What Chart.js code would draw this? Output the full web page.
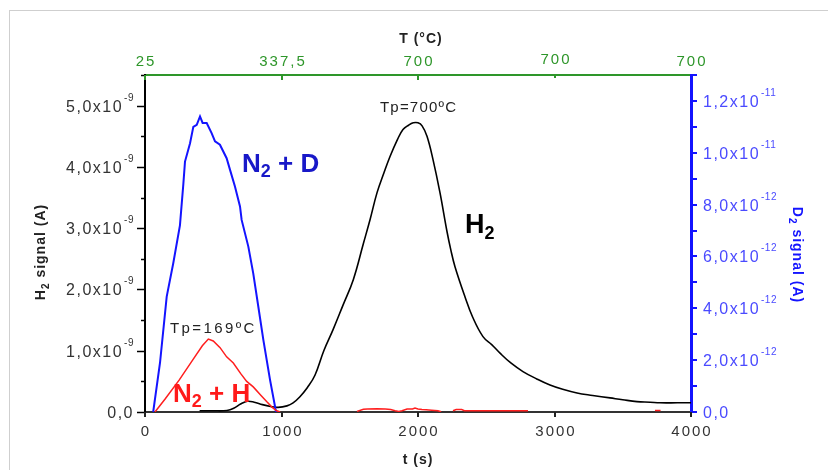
<!DOCTYPE html>
<html>
<head>
<meta charset="utf-8">
<script src="https://cdn.jsdelivr.net/npm/chart.js@4.4.0/dist/chart.umd.min.js"></script>
<style>
  html, body { margin: 0; padding: 0; background: #fff; }
  #wrap { position: relative; width: 828px; height: 470px; overflow: hidden; }
  #frame { position: absolute; left: 9px; top: 10px; width: 900px; height: 500px;
           border-left: 1px solid #cfcfcf; border-top: 1px solid #cfcfcf; }
  canvas { position: absolute; left: 0; top: 0; }
</style>
</head>
<body>
<div id="wrap"><div id="frame"></div><canvas id="tds" width="828" height="470"></canvas></div>
<script>
// H2 signal, black curve (left axis, units of 1e-9 A)
const h2Time = [400,500,600,650,700,750,800,860,920,975,1040,1085,1135,1190,1245,1310,1377,1450,1526,1600,
  1650,1700,1750,1795,1850,1890,1930,1965,2000,2030,2066,2110,2161,2212,2240,2271,2344,2400,2476,2540,
  2601,2680,2769,2870,2967,3060,3165,3280,3407,3500,3604,3700,3773,3900,4000];
const h2Signal = [0.02,0.02,0.025,0.06,0.13,0.175,0.16,0.12,0.09,0.075,0.1,0.15,0.25,0.4,0.6,1.0,1.34,1.74,2.16,2.75,
  3.15,3.58,3.9,4.17,4.45,4.61,4.68,4.72,4.72,4.67,4.5,4.12,3.58,2.95,2.65,2.37,1.88,1.55,1.23,1.1,
  0.96,0.8,0.66,0.54,0.44,0.37,0.31,0.27,0.23,0.2,0.17,0.16,0.15,0.15,0.15];

// N2 + H, red curve (left axis, units of 1e-9 A)
const nhTime = [73,150,250,350,420,464,500,550,598,647,700,745,793,850,891,930,965,990,1200,
  1553,1600,1630,1700,1760,1800,1832,1860,1883,1920,1960,1978,2000,2029,2060,2100,2146,2170,2200,
  2256,2280,2320,2340,2600,2806,3000,3736,3777];
const nhSignal = [0,0.22,0.52,0.85,1.08,1.19,1.16,1.05,0.9,0.8,0.63,0.5,0.41,0.27,0.17,0.08,0.02,0,null,
  0.01,0.045,0.05,0.055,0.05,0.04,0.02,0.01,0.02,0.05,0.05,0.065,0.05,0.04,0.035,0.03,0.02,0.005,null,
  0.02,0.04,0.04,0.02,0.02,0.02,null,0.025,0.025];

// N2 + D, blue curve (right axis, units of 1e-12 A)
const ndTime = [60,110,159,207,256,281,293,330,354,379,403,422,452,488,513,549,598,623,659,696,708,757,793,830,867,916,960];
const d2Signal = [0,1.9,4.45,5.74,7.2,8.8,9.66,10.37,11.0,11.08,11.4,11.15,11.15,10.76,10.44,10.31,9.79,9.34,8.7,7.93,7.41,6.38,5.35,4.07,2.78,1.24,0];

// axes
const timeTicks = [0, 1000, 2000, 3000, 4000];
const tempLabels = ['25', '337,5', '700', '700', '700'];
const h2Ticks = [0, 1, 2, 3, 4, 5];          // x 1e-9
const d2Ticks = [0, 2, 4, 6, 8, 10, 12];     // x 1e-12

const FONT = "'Liberation Sans', Arial, sans-serif";
const GREEN = '#2e962a';
const BLUE = '#1414ff';

function pairs(xs, ys) {
  return xs.map((x, i) => ({ x: x, y: ys[i] }));
}

function spacing(ctx, px) {
  if ('letterSpacing' in ctx) ctx.letterSpacing = px;
}

// parts: [text, font, dy]
function drawParts(ctx, parts, x, y, align) {
  let total = 0;
  const widths = parts.map(p => {
    ctx.font = p[1];
    const w = ctx.measureText(p[0]).width;
    total += w;
    return w;
  });
  let cx = align === 'right' ? x - total : (align === 'center' ? x - total / 2 : x);
  ctx.textAlign = 'left';
  ctx.textBaseline = 'alphabetic';
  parts.forEach((p, i) => {
    ctx.font = p[1];
    ctx.fillText(p[0], cx, y + (p[2] || 0));
    cx += widths[i];
  });
}

// mantissa and exponent for a label like 1,2x10^-11
function sciLabel(v, unitExp) {
  if (v === 0) return null;
  let exp = unitExp, m = v;
  while (m >= 10) { m /= 10; exp += 1; }
  return [m.toFixed(1).replace('.', ',') + 'x10', '-' + Math.abs(exp)];
}

// draws base + superscript; returns nothing. anchor 'right' or 'left'
function drawSci(ctx, v, unitExp, x, y, anchor) {
  const lab = sciLabel(v, unitExp);
  ctx.textAlign = 'left';
  spacing(ctx, '1.5px');
  ctx.font = '16px ' + FONT;
  if (!lab) {
    const w = ctx.measureText('0,0').width;
    ctx.fillText('0,0', anchor === 'right' ? x - w : x, y + 6);
    return;
  }
  const w0 = ctx.measureText(lab[0]).width + 1;
  spacing(ctx, '0.5px');
  ctx.font = '10px ' + FONT;
  const w1 = ctx.measureText(lab[1]).width;
  const start = anchor === 'right' ? x - w0 - w1 : x;
  spacing(ctx, '1.5px');
  ctx.font = '16px ' + FONT;
  ctx.fillText(lab[0], start, y + 6);
  spacing(ctx, '0.5px');
  ctx.font = '10px ' + FONT;
  ctx.fillText(lab[1], start + w0, y - 5);
}

const decorPlugin = {
  id: 'decor',
  afterDraw(chart) {
    const ctx = chart.ctx;
    const sx = chart.scales.x, sy = chart.scales.y, sy2 = chart.scales.y2;
    const area = chart.chartArea;
    ctx.save();

    // left axis ticks + labels
    ctx.strokeStyle = '#000';
    ctx.lineWidth = 1.5;
    sy.ticks.forEach(t => {
      const y = Math.round(sy.getPixelForValue(t.value)) + 0.5;
      const major = Math.abs(t.value - Math.round(t.value)) < 1e-6;
      ctx.beginPath();
      ctx.moveTo(area.left - (major ? 8 : 4), y);
      ctx.lineTo(area.left, y);
      ctx.stroke();
    });
    ctx.fillStyle = '#333';
    h2Ticks.forEach(v => drawSci(ctx, v, -9, 134, sy.getPixelForValue(v), 'right'));

    // right axis ticks + labels
    ctx.strokeStyle = BLUE;
    ctx.lineWidth = 2;
    sy2.ticks.forEach(t => {
      const y = Math.round(sy2.getPixelForValue(t.value));
      ctx.beginPath();
      ctx.moveTo(area.right, y);
      ctx.lineTo(area.right + 6, y);
      ctx.stroke();
    });
    ctx.fillStyle = '#4a4aff';
    d2Ticks.forEach(v => drawSci(ctx, v, -12, 703, sy2.getPixelForValue(v), 'left'));

    // bottom axis ticks + labels
    ctx.strokeStyle = '#222';
    ctx.lineWidth = 2;
    ctx.fillStyle = '#333';
    timeTicks.forEach(v => {
      const x = Math.round(sx.getPixelForValue(v));
      ctx.beginPath();
      ctx.moveTo(x, area.bottom);
      ctx.lineTo(x, area.bottom + 5);
      ctx.stroke();
      spacing(ctx, '2px');
      ctx.font = '15px ' + FONT;
      ctx.textAlign = 'center';
      ctx.fillText(String(v), x + 1, 435.5);
    });

    // top axis (temperature) ticks + labels
    ctx.strokeStyle = GREEN;
    ctx.fillStyle = GREEN;
    timeTicks.forEach((v, i) => {
      const x = Math.round(sx.getPixelForValue(v));
      if (i < 4) {
        ctx.beginPath();
        ctx.moveTo(x, area.top);
        ctx.lineTo(x, area.top + (i < 3 ? 5 : 3));
        ctx.stroke();
      }
      spacing(ctx, '2px');
      ctx.font = '15px ' + FONT;
      ctx.textAlign = 'center';
      ctx.fillText(tempLabels[i], x + 1, i === 3 ? 63.5 : 65.5);
    });

    // axis titles
    ctx.fillStyle = '#222';
    spacing(ctx, '1px');
    ctx.font = 'bold 14px ' + FONT;
    ctx.textAlign = 'center';
    ctx.fillText('T (°C)', 421, 43);
    ctx.fillText('t (s)', 418, 464);

    ctx.save();
    ctx.translate(40, 252);
    ctx.rotate(-Math.PI / 2);
    drawParts(ctx, [['H', 'bold 14px ' + FONT, 0], ['2', 'bold 10px ' + FONT, 4], [' signal (A)', 'bold 14px ' + FONT, 0]], 0, 5, 'center');
    ctx.restore();

    ctx.save();
    ctx.fillStyle = BLUE;
    ctx.translate(798, 255);
    ctx.rotate(Math.PI / 2);
    drawParts(ctx, [['D', 'bold 14px ' + FONT, 0], ['2', 'bold 10px ' + FONT, 4], [' signal (A)', 'bold 14px ' + FONT, 0]], 0, 5, 'center');
    ctx.restore();

    // peak annotations
    ctx.fillStyle = '#222';
    spacing(ctx, '1.2px');
    ctx.font = '15px ' + FONT;
    ctx.textAlign = 'left';
    ctx.fillText('Tp=700ºC', 380, 111.5);
    spacing(ctx, '2.4px');
    ctx.fillText('Tp=169ºC', 170, 332.5);

    spacing(ctx, '0px');
    ctx.fillStyle = '#1818c8';
    drawParts(ctx, [['N', 'bold 26px ' + FONT, 0], ['2', 'bold 18px ' + FONT, 5], [' + D', 'bold 26px ' + FONT, 0]], 242, 172, 'left');
    ctx.fillStyle = '#000';
    drawParts(ctx, [['H', 'bold 27px ' + FONT, 0], ['2', 'bold 18px ' + FONT, 6]], 465, 233, 'left');
    ctx.fillStyle = '#ff1a1a';
    drawParts(ctx, [['N', 'bold 26px ' + FONT, 0], ['2', 'bold 18px ' + FONT, 5], [' + H', 'bold 26px ' + FONT, 0]], 173, 402, 'left');

    ctx.restore();
  }
};

const ctx = document.getElementById('tds').getContext('2d');
new Chart(ctx, {
  type: 'line',
  data: {
    datasets: [
      {
        label: 'N2 + H',
        data: pairs(nhTime, nhSignal),
        xAxisID: 'x', yAxisID: 'y',
        borderColor: '#ff1e1e', borderWidth: 1.5,
        pointRadius: 0, tension: 0, spanGaps: false
      },
      {
        label: 'N2 + D',
        data: pairs(ndTime, d2Signal),
        xAxisID: 'x', yAxisID: 'y2',
        borderColor: BLUE, borderWidth: 2,
        pointRadius: 0, tension: 0
      },
      {
        label: 'H2',
        data: pairs(h2Time, h2Signal),
        xAxisID: 'x', yAxisID: 'y',
        borderColor: '#000', borderWidth: 1.6,
        pointRadius: 0, tension: 0.4
      }
    ]
  },
  options: {
    responsive: false,
    animation: false,
    layout: { padding: 0 },
    plugins: { legend: { display: false }, tooltip: { enabled: false } },
    scales: {
      x: {
        type: 'linear', position: 'bottom', min: 0, max: 4000,
        ticks: { display: false, stepSize: 1000 },
        grid: { display: false },
        border: { color: '#333', width: 2 },
        afterFit: s => { s.height = 58; }
      },
      x2: {
        type: 'linear', position: 'top', min: 0, max: 4000,
        ticks: { display: false, stepSize: 1000 },
        grid: { display: false },
        border: { color: GREEN, width: 2 },
        afterFit: s => { s.height = 75; }
      },
      y: {
        type: 'linear', position: 'left', min: 0, max: 5.5,
        ticks: { display: false, stepSize: 0.5 },
        grid: { display: false },
        border: { color: '#000', width: 2 },
        afterFit: s => { s.width = 145; }
      },
      y2: {
        type: 'linear', position: 'right', min: 0, max: 13,
        ticks: { display: false, stepSize: 1 },
        grid: { display: false },
        border: { color: BLUE, width: 3 },
        afterFit: s => { s.width = 137; }
      }
    }
  },
  plugins: [decorPlugin]
});
</script>
</body>
</html>
